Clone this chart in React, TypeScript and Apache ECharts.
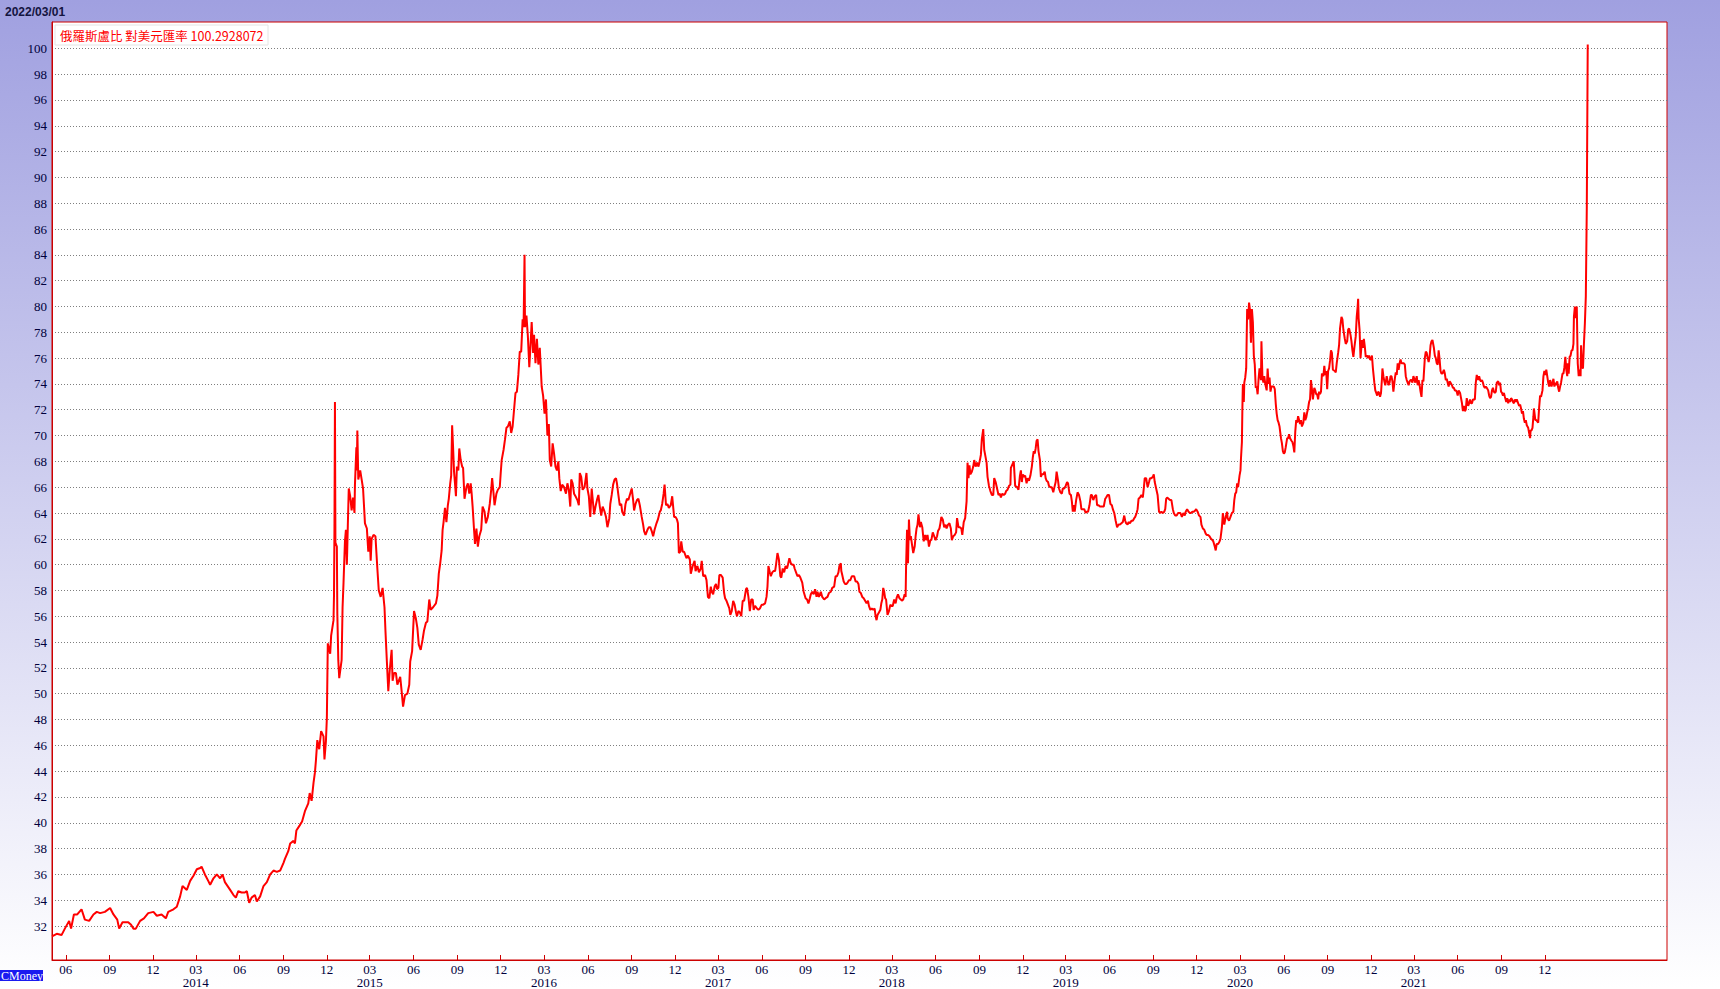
import React, { useEffect, useRef } from "react";
import * as echarts from "echarts";

type P = [string, number];

const TITLE_DATE = "2022/03/01";
const SERIES_NAME = "俄羅斯盧比 對美元匯率";
const LAST_VALUE = "100.2928072";
const WATERMARK = "CMoney";

const yTickValues = [32, 34, 36, 38, 40, 42, 44, 46, 48, 50, 52, 54, 56, 58, 60, 62, 64, 66, 68, 70, 72, 74, 76, 78, 80, 82, 84, 86, 88, 90, 92, 94, 96, 98, 100];
const xTickMonths = [
  "2013-06", "2013-09", "2013-12", "2014-03", "2014-06", "2014-09", "2014-12",
  "2015-03", "2015-06", "2015-09", "2015-12", "2016-03", "2016-06", "2016-09", "2016-12",
  "2017-03", "2017-06", "2017-09", "2017-12", "2018-03", "2018-06", "2018-09", "2018-12",
  "2019-03", "2019-06", "2019-09", "2019-12", "2020-03", "2020-06", "2020-09", "2020-12",
  "2021-03", "2021-06", "2021-09", "2021-12",
];

const rub2013: P[] = [["05-03",31.2],["05-13",31.4],["05-23",31.3],["05-30",31.8],["06-08",32.4],["06-12",31.8],["06-18",32.9],["06-25",32.9],["07-04",33.3],["07-11",32.5],["07-20",32.4],["07-29",32.9],["08-05",33.1],["08-12",33.0],["08-22",33.1],["09-02",33.4],["09-09",32.9],["09-17",32.5],["09-21",31.8],["09-28",32.3],["10-10",32.3],["10-16",32.1],["10-21",31.8],["10-26",31.8],["11-04",32.4],["11-12",32.6],["11-21",33.0],["12-02",33.1],["12-09",32.8],["12-19",32.9],["12-28",32.6]];

const rub2014: P[] = [["01-02",33.1],["01-13",33.3],["01-20",33.5],["01-27",34.3],["02-01",35.1],["02-10",34.8],["02-17",35.5],["02-24",35.9],["03-03",36.4],["03-10",36.5],["03-13",36.6],["03-20",36.0],["03-27",35.5],["03-31",35.2],["04-07",35.7],["04-14",36.0],["04-21",35.7],["04-26",36.0],["05-01",35.4],["05-12",34.8],["05-19",34.4],["05-24",34.2],["05-29",34.7],["06-05",34.6],["06-12",34.6],["06-16",34.7],["06-21",33.8],["06-26",34.2],["07-03",34.4],["07-07",33.9],["07-14",34.3],["07-21",35.1],["07-28",35.4],["08-04",36.0],["08-11",36.3],["08-18",36.2],["08-25",36.3],["09-01",36.9],["09-04",37.2],["09-11",37.8],["09-15",38.4],["09-22",38.6],["09-25",38.4],["09-28",39.4],["10-05",39.8],["10-10",40.1],["10-16",40.9],["10-23",41.5],["10-26",42.3],["10-30",41.7],["11-03",43.1],["11-06",43.9],["11-08",44.8],["11-11",46.4],["11-15",45.7],["11-19",47.1],["11-24",46.7],["11-26",44.9],["11-29",46.3],["12-01",48.1],["12-03",53.9],["12-08",53.1],["12-10",54.5],["12-15",55.7],["12-16",57.6],["12-17",63.0],["12-18",72.6],["12-19",61.7],["12-22",61.4],["12-23",56.2],["12-25",52.6],["12-27",51.2]];

const rub2015: P[] = [["01-01",52.6],["01-03",56.7],["01-05",58.6],["01-08",61.8],["01-10",62.7],["01-12",60.0],["01-14",63.0],["01-16",65.9],["01-19",65.3],["01-22",64.2],["01-25",65.2],["01-28",64.0],["01-29",66.2],["02-01",69.1],["02-02",67.3],["02-03",70.4],["02-05",66.6],["02-09",67.3],["02-12",66.6],["02-15",65.9],["02-19",63.2],["02-23",62.8],["02-26",61.0],["03-01",62.2],["03-03",60.3],["03-05",62.0],["03-09",62.3],["03-13",62.2],["03-17",59.7],["03-20",58.0],["03-24",57.5],["03-28",58.2],["04-01",56.7],["04-03",54.9],["04-06",52.5],["04-09",50.2],["04-12",51.8],["04-16",53.4],["04-18",51.0],["04-21",51.6],["04-25",51.6],["04-28",50.7],["05-04",51.3],["05-07",50.2],["05-10",49.0],["05-14",49.9],["05-19",50.0],["05-23",50.7],["05-25",52.5],["05-29",53.3],["06-02",56.4],["06-06",55.8],["06-09",55.1],["06-12",53.8],["06-16",53.4],["06-20",54.2],["06-23",54.9],["06-27",55.5],["06-30",55.6],["07-04",57.3],["07-07",56.5],["07-12",56.7],["07-18",57.0],["07-21",57.6],["07-24",59.3],["07-27",60.1],["07-30",61.1],["08-01",62.7],["08-03",63.3],["08-06",64.4],["08-09",63.3],["08-12",64.6],["08-14",65.1],["08-17",66.3],["08-19",66.9],["08-21",70.8],["08-23",69.1],["08-25",67.2],["08-27",66.3],["08-29",65.3],["08-31",67.6],["09-03",67.3],["09-05",69.0],["09-08",68.1],["09-11",67.6],["09-13",67.5],["09-16",65.1],["09-20",66.0],["09-23",66.3],["09-26",65.5],["09-29",66.3],["10-01",65.5],["10-03",64.5],["10-06",62.7],["10-08",61.6],["10-11",62.8],["10-14",61.4],["10-17",62.2],["10-21",62.7],["10-24",64.5],["10-28",64.1],["10-31",63.2],["11-04",63.7],["11-08",64.7],["11-11",65.8],["11-13",66.7],["11-16",65.5],["11-18",64.6],["11-22",65.5],["11-25",65.8],["11-29",66.0],["12-01",67.1],["12-03",68.1],["12-07",68.9],["12-10",69.7],["12-13",70.6],["12-16",70.7],["12-20",71.1],["12-23",70.2],["12-26",70.7],["12-29",72.0]];

const rub2016: P[] = [["01-01",73.3],["01-04",73.4],["01-07",74.7],["01-10",76.5],["01-13",76.5],["01-16",79.0],["01-18",78.4],["01-20",84.0],["01-21",78.4],["01-24",79.3],["01-27",77.7],["01-30",75.3],["02-01",76.6],["02-04",78.8],["02-07",76.4],["02-09",77.8],["02-12",75.6],["02-15",77.5],["02-18",75.5],["02-21",76.8],["02-23",75.3],["02-25",73.8],["02-28",73.1],["03-02",71.7],["03-05",72.8],["03-08",70.0],["03-11",70.9],["03-13",68.1],["03-16",67.6],["03-19",69.4],["03-22",68.6],["03-25",67.6],["03-28",67.3],["03-31",68.0],["04-02",66.7],["04-05",65.7],["04-08",66.2],["04-12",66.0],["04-16",65.5],["04-19",66.3],["04-22",65.8],["04-25",64.5],["04-27",66.6],["04-30",66.3],["05-03",65.5],["05-06",65.3],["05-10",65.0],["05-13",64.6],["05-15",67.1],["05-18",66.8],["05-21",65.8],["05-25",66.0],["05-29",67.1],["05-31",65.9],["06-03",65.3],["06-06",63.7],["06-09",65.9],["06-12",64.7],["06-14",63.9],["06-17",64.5],["06-20",65.0],["06-23",65.4],["06-26",64.5],["06-29",63.8],["07-02",64.5],["07-06",64.1],["07-09",63.7],["07-12",62.9],["07-16",63.6],["07-18",64.7],["07-21",65.4],["07-24",66.2],["07-27",66.6],["07-30",66.7],["08-01",66.3],["08-04",65.4],["08-07",64.6],["08-10",64.7],["08-12",64.1],["08-16",63.8],["08-19",64.7],["08-22",65.1],["08-25",65.0],["08-28",65.4],["09-01",65.9],["09-04",65.0],["09-06",64.2],["09-09",64.7],["09-12",65.0],["09-15",65.1],["09-18",64.6],["09-22",63.7],["09-25",63.1],["09-27",62.6],["09-30",62.3],["10-04",62.7],["10-07",62.9],["10-10",62.9],["10-13",62.6],["10-16",62.2],["10-19",62.7],["10-23",63.2],["10-26",63.5],["10-30",64.1],["11-01",64.2],["11-04",64.7],["11-07",65.5],["11-09",66.2],["11-12",64.6],["11-15",64.7],["11-18",64.4],["11-22",64.6],["11-25",65.3],["11-27",64.5],["11-29",63.7],["12-02",63.7],["12-05",63.5],["12-07",63.2],["12-09",60.9],["12-12",61.0],["12-14",61.8],["12-17",61.0],["12-20",61.0],["12-23",60.7],["12-25",60.5],["12-28",60.7]];

const rub2017: P[] = [["01-01",60.4],["01-03",59.3],["01-07",59.9],["01-11",60.3],["01-13",59.5],["01-17",59.9],["01-20",59.4],["01-24",59.7],["01-26",60.3],["01-29",59.1],["02-02",59.2],["02-05",58.8],["02-08",57.5],["02-11",57.4],["02-14",58.3],["02-16",57.9],["02-19",57.7],["02-22",58.3],["02-25",58.5],["02-27",58.1],["03-02",58.2],["03-04",59.2],["03-07",59.2],["03-11",59.0],["03-14",57.8],["03-16",57.4],["03-19",57.2],["03-22",56.9],["03-25",56.6],["03-27",56.1],["03-30",56.4],["04-02",57.2],["04-05",56.9],["04-08",56.3],["04-10",56.0],["04-13",56.4],["04-16",56.3],["04-19",56.0],["04-22",57.2],["04-25",57.2],["04-29",58.1],["05-01",58.2],["05-04",57.5],["05-07",56.4],["05-10",57.3],["05-13",57.3],["05-15",56.5],["05-18",56.8],["05-22",56.6],["05-25",56.5],["05-28",56.6],["06-01",56.9],["06-04",56.9],["06-08",57.0],["06-11",57.5],["06-13",58.3],["06-15",59.9],["06-18",59.4],["06-20",59.1],["06-23",59.4],["06-26",59.5],["06-29",59.5],["07-01",60.0],["07-04",60.9],["07-07",60.4],["07-10",59.1],["07-12",59.0],["07-15",59.7],["07-18",59.4],["07-21",59.9],["07-24",59.7],["07-26",60.0],["07-29",60.5],["08-01",60.1],["08-04",60.0],["08-07",60.0],["08-09",59.7],["08-12",59.4],["08-15",59.1],["08-18",59.2],["08-21",59.0],["08-25",58.6],["08-28",57.9],["09-01",57.4],["09-04",57.3],["09-07",57.0],["09-10",57.4],["09-12",57.7],["09-15",57.9],["09-18",57.7],["09-21",58.1],["09-24",57.5],["09-26",57.9],["09-29",57.5],["10-03",57.9],["10-06",57.5],["10-10",57.3],["10-13",57.4],["10-17",57.5],["10-20",57.8],["10-24",57.9],["10-27",58.2],["10-31",58.3],["11-03",59.1],["11-06",59.1],["11-09",59.4],["11-11",59.9],["11-14",60.1],["11-15",59.5],["11-17",59.2],["11-20",58.7],["11-23",58.5],["11-26",58.5],["11-28",58.6],["12-01",58.8],["12-04",58.8],["12-07",59.1],["12-09",59.1],["12-12",59.1],["12-15",58.7],["12-18",58.7],["12-21",58.5],["12-23",57.9],["12-26",57.8],["12-29",57.5]];

const rub2018: P[] = [["01-01",57.4],["01-04",57.2],["01-07",57.0],["01-10",57.2],["01-12",56.8],["01-15",56.5],["01-18",56.6],["01-21",56.5],["01-24",56.6],["01-26",56.0],["01-28",55.7],["01-30",56.1],["02-02",56.3],["02-05",56.5],["02-07",57.0],["02-09",57.3],["02-11",58.2],["02-13",57.9],["02-15",57.4],["02-17",57.3],["02-20",56.1],["02-23",56.4],["02-26",56.9],["02-28",56.8],["03-03",56.8],["03-06",57.3],["03-09",57.0],["03-11",57.4],["03-14",57.7],["03-17",57.4],["03-20",57.3],["03-22",57.2],["03-25",57.3],["03-28",57.7],["03-30",57.5],["03-31",59.9],["04-02",62.7],["04-04",60.1],["04-06",63.5],["04-08",61.9],["04-10",62.2],["04-13",61.4],["04-15",60.9],["04-18",61.4],["04-20",62.2],["04-22",62.8],["04-24",63.1],["04-26",63.9],["04-29",62.9],["05-01",63.3],["05-04",62.9],["05-07",61.8],["05-10",62.3],["05-12",61.9],["05-15",62.3],["05-18",61.4],["05-21",61.9],["05-23",61.9],["05-26",62.5],["05-29",62.2],["06-01",61.9],["06-04",62.2],["06-06",62.6],["06-09",62.8],["06-11",63.2],["06-13",63.7],["06-16",63.5],["06-19",62.9],["06-22",63.1],["06-24",62.8],["06-27",63.1],["06-30",63.2],["07-03",62.8],["07-05",61.9],["07-08",62.2],["07-11",62.3],["07-14",62.5],["07-16",63.6],["07-19",62.9],["07-22",62.9],["07-25",62.8],["07-27",62.3],["07-30",63.3],["08-02",63.6],["08-05",64.9],["08-07",67.9],["08-09",66.7],["08-11",67.7],["08-13",67.0],["08-16",67.2],["08-19",67.6],["08-21",68.1],["08-24",67.6],["08-27",67.9],["08-30",67.6],["09-02",68.1],["09-04",68.5],["09-06",69.7],["09-09",70.5],["09-11",68.9],["09-13",68.5],["09-16",67.9],["09-18",66.8],["09-21",66.1],["09-24",65.7],["09-27",65.4],["09-30",65.4],["10-02",66.7],["10-05",66.4],["10-08",65.9],["10-11",65.4],["10-14",65.5],["10-16",65.2],["10-19",65.5],["10-22",65.4],["10-25",65.5],["10-27",65.7],["10-30",65.8],["11-02",66.1],["11-05",66.2],["11-06",67.5],["11-12",68.0],["11-15",66.1],["11-19",66.0],["11-22",65.8],["11-25",66.9],["11-27",67.3],["11-29",66.4],["12-01",67.0],["12-03",66.8],["12-06",66.9],["12-09",66.3],["12-11",66.7],["12-14",66.5],["12-17",66.9],["12-20",67.6],["12-22",68.3],["12-24",68.8],["12-26",68.6],["12-28",69.0],["12-30",69.6]];

const rub2019: P[] = [["01-01",69.7],["01-03",68.8],["01-06",68.1],["01-08",66.8],["01-10",67.0],["01-13",67.0],["01-16",67.2],["01-18",66.7],["01-20",66.5],["01-23",66.4],["01-25",66.1],["01-28",66.0],["01-31",66.0],["02-03",65.6],["02-06",66.1],["02-08",66.4],["02-10",67.2],["02-13",66.5],["02-15",65.9],["02-18",65.6],["02-21",65.5],["02-23",65.9],["02-26",65.9],["03-01",66.1],["03-04",66.4],["03-06",66.3],["03-09",65.5],["03-12",65.4],["03-14",64.9],["03-16",64.1],["03-18",64.6],["03-20",64.1],["03-23",65.0],["03-26",65.6],["03-29",65.4],["04-01",64.9],["04-03",64.3],["04-06",64.3],["04-09",64.3],["04-12",64.0],["04-14",64.1],["04-17",64.1],["04-20",64.6],["04-23",65.4],["04-25",65.4],["04-28",65.0],["05-01",65.3],["05-04",65.4],["05-06",64.6],["05-09",64.6],["05-12",64.5],["05-14",64.5],["05-17",64.5],["05-20",64.5],["05-23",65.1],["05-25",65.2],["05-28",65.4],["05-31",65.4],["06-03",64.7],["06-06",64.6],["06-08",64.3],["06-11",64.0],["06-14",63.4],["06-17",62.9],["06-20",63.1],["06-23",63.1],["06-26",63.2],["06-29",63.3],["07-02",63.8],["07-04",63.4],["07-06",63.2],["07-09",63.1],["07-11",63.3],["07-14",63.2],["07-17",63.4],["07-20",63.4],["07-23",63.6],["07-25",63.7],["07-28",64.0],["07-30",64.3],["08-01",65.1],["08-04",65.2],["08-07",65.4],["08-10",65.2],["08-12",65.9],["08-14",66.7],["08-17",66.7],["08-20",66.0],["08-23",66.4],["08-25",66.7],["08-28",66.7],["08-31",66.8],["09-02",67.0],["09-04",66.4],["09-07",65.9],["09-10",65.4],["09-13",64.1],["09-15",64.0],["09-18",64.1],["09-21",64.0],["09-24",64.1],["09-26",64.3],["09-28",65.1],["09-30",65.2],["10-03",65.1],["10-06",65.0],["10-09",65.0],["10-12",64.3],["10-14",64.0],["10-17",63.8],["10-20",63.8],["10-23",64.0],["10-25",64.0],["10-28",64.0],["10-31",63.7],["11-03",64.0],["11-06",63.8],["11-08",64.1],["11-11",64.3],["11-14",64.1],["11-17",64.0],["11-19",64.0],["11-22",64.1],["11-25",64.1],["11-28",64.2],["11-30",64.3],["12-03",64.1],["12-06",63.8],["12-09",63.7],["12-11",63.1],["12-14",62.8],["12-17",62.7],["12-20",62.4],["12-22",62.3],["12-25",62.3],["12-28",62.2],["12-31",62.0]];

const rub2020: P[] = [["01-03",61.9],["01-05",61.8],["01-08",61.4],["01-10",61.1],["01-12",61.6],["01-15",61.6],["01-18",61.8],["01-20",62.0],["01-23",62.9],["01-25",64.0],["01-28",63.1],["01-31",63.7],["02-03",64.1],["02-04",63.6],["02-07",63.4],["02-10",63.7],["02-13",64.0],["02-16",64.1],["02-18",65.0],["02-20",65.5],["02-22",65.6],["02-24",66.3],["02-26",66.0],["02-29",66.9],["03-02",67.3],["03-03",68.2],["03-05",69.5],["03-06",72.1],["03-07",74.0],["03-09",72.6],["03-10",74.1],["03-12",74.5],["03-14",75.2],["03-16",79.8],["03-18",79.0],["03-20",80.3],["03-22",79.7],["03-24",77.2],["03-26",79.8],["03-28",78.8],["03-30",76.2],["04-01",75.5],["04-03",73.7],["04-05",73.8],["04-07",73.2],["04-09",74.4],["04-11",75.2],["04-14",74.3],["04-15",77.3],["04-17",74.6],["04-19",74.1],["04-21",74.6],["04-23",74.0],["04-26",73.5],["04-28",75.2],["04-30",74.0],["05-02",74.5],["05-04",73.4],["05-06",73.8],["05-09",73.8],["05-11",73.8],["05-13",73.6],["05-15",72.5],["05-17",71.7],["05-19",71.2],["05-21",71.0],["05-23",70.7],["05-26",69.8],["05-28",69.4],["05-30",68.8],["06-01",68.6],["06-03",68.7],["06-05",69.1],["06-08",69.8],["06-10",69.8],["06-12",70.1],["06-14",69.8],["06-17",69.6],["06-19",69.5],["06-21",69.2],["06-23",68.7],["06-25",70.3],["06-27",71.2],["06-29",71.0],["07-01",71.5],["07-03",71.2],["07-05",70.9],["07-07",71.2],["07-09",70.7],["07-12",71.0],["07-14",71.8],["07-16",71.2],["07-18",71.4],["07-20",71.8],["07-22",72.1],["07-24",72.6],["07-26",72.8],["07-28",74.3],["07-30",73.6],["08-01",72.8],["08-04",73.7],["08-06",73.5],["08-08",73.2],["08-10",73.2],["08-12",72.8],["08-14",73.4],["08-16",73.2],["08-18",73.4],["08-20",74.8],["08-23",74.6],["08-25",75.4],["08-27",74.7],["08-29",75.0],["08-31",73.6],["09-02",75.0],["09-04",75.2],["09-06",75.8],["09-08",76.6],["09-10",76.4],["09-12",75.1],["09-16",75.0],["09-18",74.9],["09-20",75.6],["09-23",76.4],["09-25",77.0],["09-27",78.3],["09-30",79.2],["10-02",79.0],["10-04",78.2],["10-07",77.5],["10-09",77.1],["10-12",77.3],["10-14",78.2],["10-16",78.3],["10-19",77.8],["10-21",77.3],["10-23",76.6],["10-25",76.1],["10-27",76.8],["10-30",77.7],["11-01",79.2],["11-03",80.0],["11-04",80.6],["11-05",79.1],["11-07",78.2],["11-09",76.0],["11-12",77.4],["11-14",76.8],["11-16",77.5],["11-18",76.9],["11-20",76.1],["11-23",76.2],["11-25",76.0],["11-27",76.2],["11-29",75.9],["12-01",75.9],["12-03",76.2],["12-05",75.2],["12-08",74.1],["12-10",73.5],["12-12",73.3],["12-14",73.1],["12-16",73.4],["12-18",73.3],["12-20",73.0],["12-22",73.3],["12-24",74.4],["12-25",75.2],["12-27",74.6],["12-29",74.2],["12-31",73.9]];

const rub2021: P[] = [["01-03",74.6],["01-05",74.2],["01-07",73.9],["01-09",74.1],["01-11",74.6],["01-13",74.6],["01-15",74.2],["01-17",73.4],["01-20",74.4],["01-22",74.9],["01-24",74.7],["01-26",75.6],["01-28",75.1],["01-30",75.6],["02-01",75.9],["02-03",75.6],["02-05",75.6],["02-08",75.6],["02-10",75.5],["02-12",74.6],["02-14",74.3],["02-16",74.1],["02-18",73.9],["02-20",74.2],["02-22",74.3],["02-24",74.3],["02-26",74.1],["02-28",74.6],["03-02",74.4],["03-04",74.1],["03-07",74.6],["03-09",73.9],["03-11",74.3],["03-13",73.9],["03-15",73.4],["03-17",73.0],["03-19",74.3],["03-21",74.2],["03-24",76.0],["03-26",76.5],["03-28",76.4],["03-30",76.0],["04-01",75.7],["04-03",76.1],["04-05",77.0],["04-07",77.3],["04-09",77.4],["04-12",76.8],["04-14",76.2],["04-16",76.0],["04-18",75.6],["04-20",75.5],["04-22",76.6],["04-24",75.9],["04-26",75.0],["04-28",74.8],["04-30",74.8],["05-03",75.1],["05-05",74.8],["05-07",74.3],["05-09",74.4],["05-11",74.1],["05-13",73.8],["05-15",74.2],["05-17",74.1],["05-20",73.9],["05-22",73.7],["05-24",73.7],["05-26",73.5],["05-28",73.5],["05-30",73.4],["06-01",73.1],["06-03",73.5],["06-06",73.3],["06-08",72.9],["06-10",72.5],["06-12",71.9],["06-14",72.3],["06-16",71.9],["06-18",72.0],["06-20",72.9],["06-23",72.3],["06-25",72.5],["06-27",72.8],["06-29",72.5],["07-01",72.5],["07-03",72.8],["07-05",72.8],["07-07",72.8],["07-09",74.1],["07-11",74.7],["07-14",74.3],["07-16",74.6],["07-18",74.3],["07-20",74.2],["07-22",74.3],["07-24",74.1],["07-26",73.8],["07-28",73.7],["07-30",73.8],["08-01",73.7],["08-04",73.5],["08-06",73.1],["08-08",72.9],["08-10",73.0],["08-12",73.5],["08-14",73.7],["08-16",73.4],["08-18",73.3],["08-20",73.4],["08-22",74.1],["08-25",74.2],["08-27",73.9],["08-29",74.1],["08-31",73.4],["09-02",73.3],["09-04",73.1],["09-06",73.3],["09-08",73.0],["09-11",72.6],["09-13",72.9],["09-15",72.5],["09-17",72.8],["09-19",72.6],["09-21",72.9],["09-23",72.8],["09-25",72.6],["09-27",72.5],["09-29",72.8],["10-01",72.6],["10-03",72.8],["10-06",72.5],["10-08",72.3],["10-10",72.4],["10-12",72.1],["10-14",71.7],["10-16",71.9],["10-18",71.3],["10-20",71.0],["10-22",71.2],["10-24",70.8],["10-27",70.6],["10-29",70.2],["10-31",69.8],["11-01",70.4],["11-03",70.4],["11-05",70.6],["11-07",71.5],["11-08",72.1],["11-11",71.2],["11-13",71.2],["11-15",71.1],["11-17",71.0],["11-19",72.2],["11-21",73.1],["11-23",73.0],["11-26",73.5],["11-28",74.6],["11-30",75.0],["12-02",74.7],["12-04",75.1],["12-06",74.6],["12-08",74.1],["12-10",73.8],["12-12",74.3],["12-15",73.8],["12-17",74.1],["12-19",74.4],["12-21",73.8],["12-23",74.1],["12-25",73.9],["12-27",74.2],["12-29",73.7],["12-31",73.4]];

const rub2022: P[] = [["01-02",73.8],["01-04",74.1],["01-07",74.8],["01-09",74.8],["01-11",75.3],["01-13",76.1],["01-15",75.1],["01-17",74.6],["01-18",75.6],["01-20",74.8],["01-22",76.1],["01-24",76.2],["01-26",76.6],["01-28",76.6],["01-30",77.1],["01-31",79.2],["02-02",80.0],["02-04",79.1],["02-06",80.0],["02-08",75.6],["02-10",74.6],["02-12",75.1],["02-14",74.6],["02-15",77.0],["02-17",75.3],["02-19",75.2],["02-21",77.1],["02-23",78.7],["02-25",80.8],["02-27",87.6],["03-01",100.2928072]];

const yearTables: [number, P[]][] = [
  [2013, rub2013], [2014, rub2014], [2015, rub2015], [2016, rub2016], [2017, rub2017],
  [2018, rub2018], [2019, rub2019], [2020, rub2020], [2021, rub2021], [2022, rub2022],
];

const DAY = 86400000;
const X_MIN = Date.UTC(2013, 4, 3);
const X_MAX = X_MIN + 3390.4 * DAY;
const Y_MIN = 29.37;
const Y_MAX = 102.04;

function buildSeries(): [number, number][] {
  const out: [number, number][] = [];
  for (const [year, rows] of yearTables) {
    for (const [md, v] of rows) {
      const [m, d] = md.split("-").map(Number);
      out.push([Date.UTC(year, m - 1, d), v]);
    }
  }
  return out;
}

const xTickValues = xTickMonths.map((s) => {
  const [y, m] = s.split("-").map(Number);
  return Date.UTC(y, m - 1, 1);
});

function fmtX(v: number): string {
  const d = new Date(v);
  const m = d.getUTCMonth() + 1;
  const mm = (m < 10 ? "0" : "") + m;
  return m === 3 ? mm + "\n" + d.getUTCFullYear() : mm;
}

export default function App() {
  const ref = useRef<HTMLDivElement>(null);
  useEffect(() => {
    if (!ref.current) return;
    const chart = echarts.init(ref.current, undefined, { renderer: "svg" });
    const labelColor = "#00003c";
    chart.setOption({
      animation: false,
      backgroundColor: "transparent",
      grid: {
        left: 52, right: 53, top: 22, bottom: 29,
        show: true, backgroundColor: "#ffffff", borderColor: "#cc0000", borderWidth: 1,
      },
      xAxis: {
        type: "value", min: X_MIN, max: X_MAX,
        axisLine: { show: true, onZero: false, lineStyle: { color: "#cc0000", width: 1 } },
        axisTick: { show: true, inside: true, length: 5, lineStyle: { color: "#cc0000", width: 1 }, customValues: xTickValues },
        axisLabel: {
          customValues: xTickValues, formatter: fmtX, color: labelColor,
          fontFamily: '"Liberation Serif", serif', fontSize: 13, lineHeight: 13, margin: 3,
        },
        splitLine: { show: false },
      },
      yAxis: {
        type: "value", min: Y_MIN, max: Y_MAX,
        axisLine: { show: true, lineStyle: { color: "#cc0000", width: 1 } },
        axisTick: { show: false, customValues: yTickValues },
        axisLabel: {
          customValues: yTickValues, color: labelColor,
          fontFamily: '"Liberation Serif", serif', fontSize: 13, margin: 5,
        },
        splitLine: { show: true, lineStyle: { color: "#7f7f7f", width: 1, type: [1, 2] } },
      },
      series: [
        {
          type: "line",
          name: SERIES_NAME,
          data: buildSeries(),
          showSymbol: false,
          symbol: "none",
          silent: true,
          lineStyle: { color: "#ff0000", width: 2 },
          itemStyle: { color: "#ff0000" },
        },
      ],
      graphic: [
        {
          type: "text", x: 5, y: 12,
          style: { text: TITLE_DATE, font: 'bold 12px "Liberation Sans", Arial, sans-serif', fill: "#141440", verticalAlign: "middle" },
        },
        {
          type: "rect", shape: { x: 55, y: 25, width: 213, height: 20 },
          style: { fill: "#ffffff", stroke: "#e4e4e4", lineWidth: 1 },
        },
        {
          type: "text", x: 60, y: 35,
          style: { text: SERIES_NAME + " " + LAST_VALUE, font: '12.5px "Noto Sans CJK TC", sans-serif', fill: "#ff0000", verticalAlign: "middle" },
        },
        {
          type: "rect", shape: { x: 0, y: 970, width: 43, height: 11 },
          style: { fill: "#1a1af0" },
        },
        {
          type: "text", x: 1, y: 975.5,
          style: { text: WATERMARK, font: '12px "Liberation Serif", serif', fill: "#ffffff", verticalAlign: "middle" },
        },
      ],
    });
    return () => chart.dispose();
  }, []);
  return (
    <div
      ref={ref}
      style={{
        position: "absolute", left: 0, top: 0, width: 1720, height: 989,
        background: "linear-gradient(to bottom, #a0a0e0 0%, #ffffff 100%)",
      }}
    />
  );
}
